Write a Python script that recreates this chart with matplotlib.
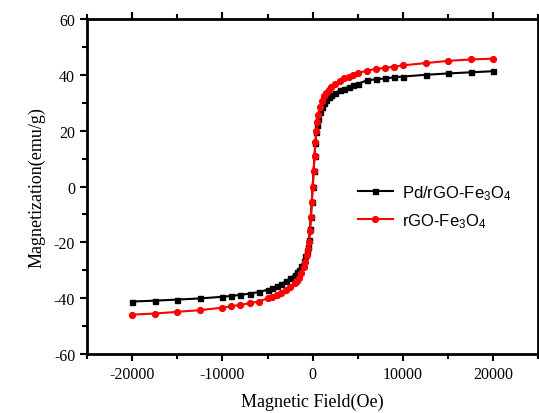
import matplotlib
matplotlib.use("Agg")
import matplotlib.pyplot as plt
from matplotlib.ticker import MultipleLocator

# applied field (Oe)
field = [-20000, -17500, -15000, -12500, -10000, -9000, -8000, -7000, -6000,
         -5000, -4500, -4000, -3500, -3000, -2500, -2000, -1750, -1500, -1250,
         -1000, -800, -600, -500, -400, -300, -200, -100, 0,
         100, 200, 300, 400, 500, 600, 800, 1000, 1250, 1500, 1750, 2000,
         2500, 3000, 3500, 4000, 4500, 5000, 6000, 7000, 8000, 9000, 10000,
         12500, 15000, 17500, 20000]

# magnetization (emu/g)
m_pd = [-41.2, -40.9, -40.5, -40.1, -39.5, -39.2, -38.8, -38.4, -37.8,
        -37.0, -36.4, -35.7, -34.9, -34.0, -32.9, -31.6, -30.8, -29.8, -28.5,
        -26.8, -25.0, -23.0, -21.5, -19.0, -15.3, -10.8, -5.4, 0.0,
        5.5, 11.0, 15.5, 19.5, 22.0, 24.0, 26.8, 28.5, 30.0, 31.0, 31.9, 32.6,
        33.6, 34.4, 35.1, 35.7, 36.3, 36.8, 38.0, 38.4, 38.7, 39.1, 39.4,
        40.0, 40.5, 40.9, 41.3]

m_rgo = [-45.9, -45.5, -44.9, -44.3, -43.4, -42.9, -42.4, -41.8, -41.2,
         -40.1, -39.5, -38.8, -38.0, -37.0, -35.9, -34.6, -33.7, -32.6, -31.0,
         -29.0, -27.0, -24.5, -22.5, -19.8, -15.8, -11.0, -5.5, 0.0,
         5.5, 11.0, 16.0, 20.0, 23.0, 25.5, 28.5, 30.6, 32.3, 33.6, 34.6, 35.5,
         36.8, 37.8, 38.7, 39.4, 40.0, 40.6, 41.5, 42.1, 42.5, 42.9, 43.4,
         44.2, 45.0, 45.5, 45.8]

labels = ["Pd/rGO-Fe$_3$O$_4$", "rGO-Fe$_3$O$_4$"]

plt.rcParams["axes.unicode_minus"] = False
plt.rcParams["mathtext.fontset"] = "custom"
plt.rcParams["mathtext.rm"] = "Liberation Sans"
plt.rcParams["mathtext.it"] = "Liberation Sans"

fig = plt.figure(figsize=(5.39, 4.14), dpi=100)
ax = fig.add_axes([0.1614, 0.1425, 0.8375, 0.8092])

ax.plot(field, m_pd, "-s", color="black", lw=1.5, ms=3.6, label=labels[0])
ax.plot(field, m_rgo, "-o", color="red", lw=1.5, ms=4.2, label=labels[1])

ax.set_xlim(-25000, 25000)
ax.set_ylim(-60, 60)
ax.xaxis.set_major_locator(MultipleLocator(10000))
ax.xaxis.set_minor_locator(MultipleLocator(5000))
ax.yaxis.set_major_locator(MultipleLocator(20))
ax.yaxis.set_minor_locator(MultipleLocator(10))

for s in ax.spines.values():
    s.set_linewidth(2)
ax.tick_params(which="both", direction="out", width=1.5, top=True,
               labelfontfamily="Liberation Serif", labelsize=11.5)
ax.tick_params(which="major", length=5)
ax.tick_params(which="minor", length=3.5)

ax.set_xlabel("Magnetic Field(Oe)", family="Liberation Serif", fontsize=13,
              labelpad=8)
ax.set_ylabel("Magnetization(emu/g)", family="Liberation Serif", fontsize=13,
              labelpad=6)

ax.legend(loc="center left", bbox_to_anchor=(0.6, 0.44), frameon=False,
          handlelength=2.1, handletextpad=0.55, borderpad=0, borderaxespad=0,
          labelspacing=0.55, prop={"family": "Liberation Sans", "size": 12})

fig.savefig("out.png", dpi=100)
